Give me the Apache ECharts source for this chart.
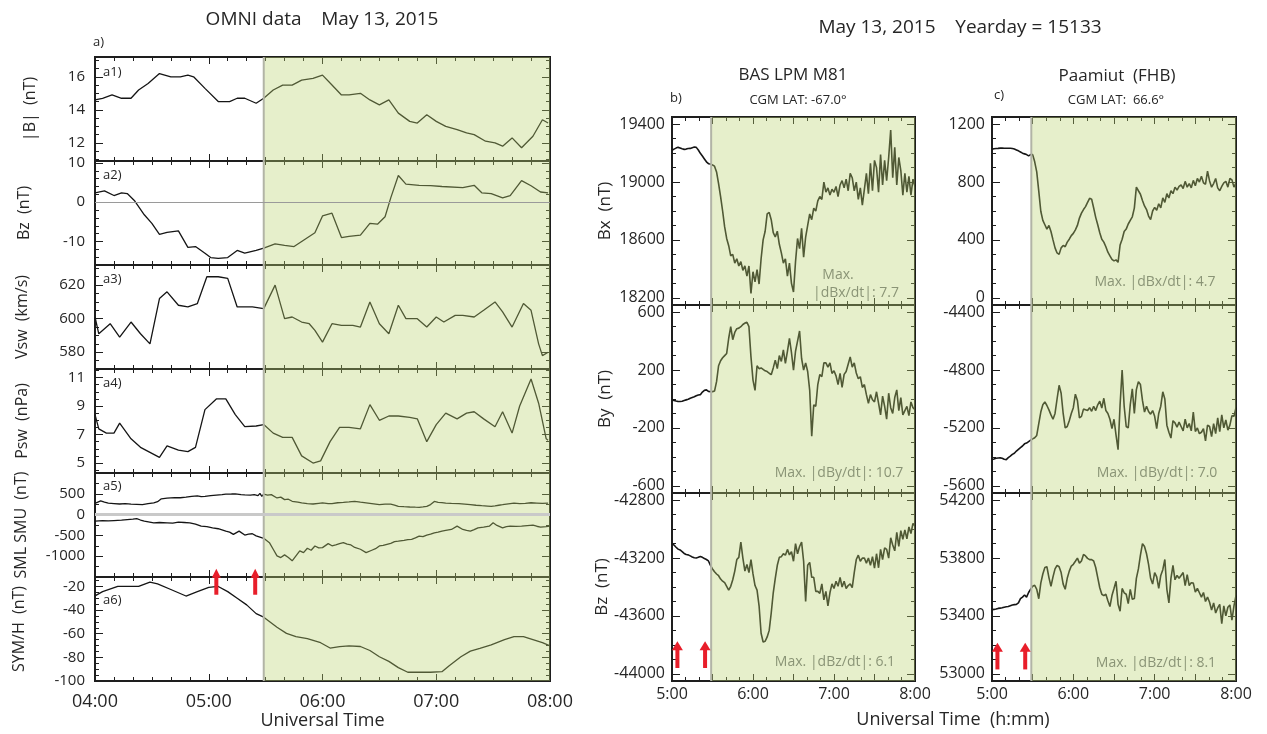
<!DOCTYPE html>
<html>
<head>
<meta charset="utf-8">
<title>OMNI data and ground magnetometers, May 13, 2015</title>
<script src="https://cdn.jsdelivr.net/npm/echarts@6/dist/echarts.min.js"></script>
<style>
  html, body { margin: 0; padding: 0; background: #fff; }
  #chart { width: 1267px; height: 734px; }
</style>
</head>
<body>
<div id="chart"></div>
<script>
// ---------------- OMNI solar wind / index data (time = minutes of day, UT) ----------------
const bMagTime = [240,244,249,254,259,263,268,274,280,285,289,292,298,305,311,315,319,325,329,334,339,344,349,355,360,365,370,374,380,385,390,395,400,406,410,415,420,425,431,436,440,446,451,455,460,465,471,476,479];
const bMag = [14.6,14.7,14.9,14.7,14.7,15.2,15.6,16.2,16.0,16.0,16.1,16.0,15.3,14.5,14.5,14.7,14.7,14.4,14.7,15.2,15.5,15.5,15.8,15.9,16.1,15.5,14.9,14.9,15.0,14.6,14.3,14.6,13.8,13.3,13.2,13.7,13.3,13.0,12.8,12.6,12.5,12.1,12.0,11.8,12.3,11.7,12.4,13.4,13.2];

const bzTime = [240,245,250,254,257,261,266,270,274,278,284,289,293,298,301,305,310,315,319,325,329,335,340,345,350,356,360,365,370,374,380,385,389,393,396,400,404,411,417,423,434,440,444,449,455,459,465,470,475,479];
const bz = [2.4,2.9,1.7,2.4,2.2,0.3,-3.2,-5.4,-8.2,-7.7,-7.3,-11.5,-11.3,-13.0,-14.1,-14.3,-14.1,-12.3,-13.0,-12.3,-11.7,-10.6,-11.0,-11.3,-9.7,-7.8,-3.5,-2.8,-9.0,-8.7,-8.4,-5.4,-5.6,-3.7,1.1,6.8,4.6,4.3,4.2,4.0,3.7,4.3,2.4,2.2,1.1,1.7,5.5,4.2,2.6,2.4];

const vswTime = [240,242,248,253,259,264,269,274,278,284,289,294,299,305,310,315,323,329,335,340,344,349,353,356,360,365,370,376,380,385,390,395,400,404,410,415,420,424,430,434,440,445,451,455,460,466,470,474,476,479];
const vsw = [601,591,597,589,598,591,585,612,616,608,607,609,625,625,624,607,607,606,620,600,601,598,597,593,586,597,596,596,595,610,597,591,608,600,600,595,601,598,602,602,601,605,610,604,595,609,605,585,578,580];

const pswTime = [240,242,246,250,253,259,264,269,274,278,284,289,293,298,304,309,314,319,325,329,334,339,344,349,355,359,364,369,374,380,385,390,395,400,406,410,415,420,425,431,436,440,445,451,455,460,464,470,474,478,479];
const psw = [8.4,7.4,7.1,7.1,7.8,6.7,6.1,5.75,5.4,6.2,5.9,5.8,6.1,8.75,9.5,9.5,8.4,7.55,7.6,7.7,7.1,6.8,6.8,5.5,5.0,5.15,6.5,7.5,7.5,7.4,9.1,8.0,8.3,8.3,8.2,8.1,6.5,7.7,8.5,8.1,8.5,8.6,8.1,7.55,8.6,7.1,9.0,10.9,9.2,6.7,6.6];

const smuTime = [240,243,245,247,250,253,256,259,262,265,268,271,273,275,278,282,285,288,291,294,296,298,301,304,307,309,312,314,317,319,322,324,326,327,328,329,331,333,336,338,340,342,344,347,349,352,355,358,360,363,365,368,371,374,377,380,384,387,390,393,396,398,400,403,406,409,411,413,415,417,419,421,423,425,428,432,435,438,441,444,447,449,451,453,455,458,461,464,467,470,473,476,479];
const smu = [270,330,300,275,265,255,262,250,245,240,262,280,310,380,395,410,405,420,440,450,430,437,455,470,480,490,495,500,480,475,470,478,455,510,440,490,470,480,400,420,360,370,320,300,280,265,255,270,280,265,262,285,294,305,318,300,278,260,238,250,254,230,200,190,183,178,175,185,198,240,317,295,290,278,270,262,250,238,225,214,205,198,210,225,238,260,278,265,270,285,278,270,278];

const smlTime = [240,244,247,250,254,257,260,262,264,266,271,274,278,281,284,287,290,293,296,299,302,305,309,311,313,316,319,321,323,325,327,329,332,334,336,338,340,342,344,346,348,350,352,354,356,358,360,363,365,367,369,371,373,375,377,380,383,386,388,390,392,394,396,398,400,403,405,407,409,411,413,415,417,419,421,423,425,428,431,434,436,438,440,442,445,448,450,452,455,457,459,462,465,468,471,473,475,478,480];
const sml = [-159,-143,-150,-143,-135,-119,-110,-95,-130,-159,-198,-190,-198,-205,-183,-190,-198,-230,-278,-290,-317,-340,-397,-420,-476,-397,-492,-470,-460,-510,-540,-571,-675,-833,-992,-1032,-968,-1032,-1111,-992,-873,-913,-810,-857,-754,-800,-794,-698,-750,-730,-700,-675,-710,-730,-790,-833,-913,-857,-820,-754,-740,-714,-690,-651,-640,-619,-600,-595,-560,-516,-530,-492,-470,-437,-420,-397,-380,-357,-278,-357,-380,-397,-360,-317,-300,-278,-198,-260,-317,-290,-278,-285,-278,-265,-254,-280,-302,-290,-278];

const symhTime = [240,244,252,263,269,273,280,288,294,300,305,310,315,320,325,329,336,341,346,352,359,364,369,374,380,385,390,395,400,405,411,417,423,427,433,438,443,449,456,461,466,471,476,480];
const symh = [-28,-24.4,-20,-20,-16.3,-17.8,-22.6,-28.1,-24.4,-20.7,-20,-24.4,-30,-35.6,-43,-46,-54.5,-59.7,-62.4,-64.2,-67.6,-72.1,-71,-70.3,-70.8,-74.2,-79.5,-83.4,-88.7,-92.6,-92.6,-92.6,-92.1,-86.8,-79.5,-74.7,-72.4,-69.5,-65,-62.4,-62.4,-65,-67.6,-70.3];

// ---------------- Ground magnetometers, sampled every 1.5 min from 05:00 UT ----------------
const magMinutes = Array.from({ length: 121 }, (_, i) => 300 + 1.5 * i);

// BAS LPM M81
const m81Bx = [19220,19228,19235,19240,19236,19230,19226,19228,19232,19233,
  19238,19242,19240,19222,19199,19180,19160,19140,19127,19125,
  19118,19110,19070,18990,18900,18800,18690,18610,18560,18490,
  18500,18440,18470,18420,18450,18390,18420,18350,18420,18230,
  18380,18310,18395,18295,18470,18600,18660,18780,18790,18740,
  18650,18620,18660,18570,18510,18440,18470,18350,18440,18300,
  18240,18450,18610,18540,18680,18480,18620,18700,18780,18740,
  18820,18800,18870,18900,18880,19000,18930,18960,18910,18950,
  18930,18970,18900,18980,19010,18960,19020,18940,19060,19030,
  18940,19000,18880,18960,18840,18950,19060,18920,19130,18940,
  19150,19100,18930,19190,18980,19150,19010,19170,19360,19030,
  19240,18980,19170,19080,18910,19060,18930,19040,18910,19020,
  18970];
const m81By = [-6,-10,-14,-17,-17,-15,-10,-6,-2,5,
  10,15,22,28,30,48,60,63,52,51,
  51,55,120,230,265,285,300,315,420,500,
  410,460,486,490,500,515,525,531,500,291,
  131,60,230,210,215,205,195,190,178,168,
  215,269,210,300,260,340,246,330,420,320,
  200,330,400,470,280,200,250,190,60,-257,
  -40,-50,100,170,154,250,250,220,250,177,
  195,160,100,177,80,170,190,240,291,220,
  250,180,140,154,80,100,30,-29,30,-5,
  -20,50,-29,-110,20,-50,-140,40,-60,-100,
  10,63,-80,10,-110,-80,-51,-115,-20,-60,
  -74];
const m81Bz = [-43100,-43110,-43125,-43138,-43144,-43155,-43168,-43175,-43178,-43185,
  -43192,-43198,-43200,-43195,-43189,-43195,-43203,-43210,-43220,-43250,
  -43275,-43295,-43310,-43322,-43345,-43360,-43370,-43395,-43422,-43395,
  -43350,-43290,-43210,-43195,-43089,-43200,-43290,-43244,-43300,-43210,
  -43310,-43390,-43422,-43530,-43720,-43780,-43775,-43745,-43700,-43580,
  -43440,-43340,-43250,-43195,-43190,-43170,-43180,-43140,-43178,-43156,
  -43222,-43100,-43170,-43120,-43090,-43222,-43500,-43250,-43230,-43333,
  -43333,-43430,-43430,-43444,-43378,-43489,-43430,-43530,-43440,-43378,
  -43410,-43360,-43395,-43333,-43400,-43360,-43410,-43390,-43378,-43405,
  -43300,-43210,-43180,-43222,-43200,-43200,-43235,-43200,-43250,-43190,
  -43270,-43170,-43267,-43140,-43210,-43130,-43140,-43200,-43060,-43110,
  -43150,-43022,-43120,-43010,-43070,-43005,-43067,-42985,-43030,-42960,
  -42978];

// Paamiut (FHB)
const fhbBx = [1028,1030,1032,1033,1035,1035,1034,1034,1034,1034,
  1032,1028,1022,1016,1008,1000,995,990,981,990,
  990,940,870,737,598,535,505,475,500,458,
  400,345,310,300,345,362,353,385,405,430,
  445,470,500,551,585,610,630,660,688,682,
  621,556,505,450,405,385,353,315,290,265,
  255,262,245,365,405,458,475,510,535,560,
  620,765,740,716,672,635,610,565,540,600,
  625,605,650,621,691,660,720,690,740,720,
  765,745,770,780,755,805,765,790,760,812,
  775,825,800,840,795,785,875,808,765,790,
  825,760,740,770,795,805,765,825,815,765,
  795];
const fhbBy = [-5419,-5415,-5410,-5408,-5407,-5410,-5417,-5419,-5405,-5395,
  -5383,-5375,-5360,-5348,-5336,-5325,-5310,-5305,-5295,-5285,
  -5276,-5268,-5252,-5170,-5090,-5040,-5020,-5045,-5075,-5110,
  -5140,-5100,-5000,-4905,-4960,-5100,-5200,-5190,-5150,-5100,
  -5060,-4967,-5010,-5130,-5120,-5070,-5075,-5080,-5060,-5085,
  -5050,-5080,-5040,-5015,-5062,-4995,-5080,-5100,-5140,-5205,
  -5140,-5250,-5350,-5038,-4800,-5050,-5190,-5200,-5038,-4930,
  -5100,-4935,-4880,-4900,-5010,-5090,-5050,-5086,-5105,-5080,
  -5120,-5205,-5100,-5050,-4950,-5000,-5181,-5230,-5270,-5150,
  -5165,-5195,-5160,-5190,-5220,-5140,-5200,-5170,-5220,-5090,
  -5225,-5200,-5240,-5230,-5205,-5290,-5180,-5190,-5260,-5170,
  -5240,-5130,-5225,-5110,-5200,-5145,-5215,-5181,-5115,-5120,
  -5060];
const fhbBz = [53443,53445,53448,53452,53454,53456,53460,53463,53465,53470,
  53475,53478,53480,53490,53519,53530,53545,53530,53562,53585,
  53605,53612,53584,53519,53627,53690,53735,53740,53665,53605,
  53670,53725,53750,53740,53700,53620,53584,53660,53710,53745,
  53757,53778,53800,53765,53780,53825,53815,53798,53789,53789,
  53780,53735,53665,53595,53550,53540,53550,53505,53465,53541,
  53590,53640,53480,53432,53590,53560,53550,53485,53584,53515,
  53520,53660,53725,53820,53900,53880,53830,53757,53660,53620,
  53700,53670,53590,53680,53720,53790,53584,53490,53660,53750,
  53650,53680,53660,53680,53700,53610,53685,53610,53630,53627,
  53565,53590,53560,53530,53562,53500,53530,53495,53440,53490,
  53420,53455,53480,53346,53470,53400,53460,53476,53370,53470,
  53541];

// ---------------- Events and tick labels ----------------
const onsetMinute = 329;            // start of the shaded interval (05:29 UT)
const arrowMinutes = [304, 324.5];  // marked events before the onset

const omniTimeTicks = [240, 300, 360, 420, 480];
const omniTimeLabels = ['04:00', '05:00', '06:00', '07:00', '08:00'];
const magTimeTicks = [300, 360, 420, 480];
const magTimeLabels = ['5:00', '6:00', '7:00', '8:00'];

const ticksBmag = [12, 14, 16];
const ticksBz = [-10, 0, 10];
const ticksVsw = [580, 600, 620];
const ticksPsw = [5, 7, 9, 11];
const ticksSmx = [-1000, -500, 0, 500];
const ticksSymh = [-100, -80, -60, -40, -20];
const ticksM81Bx = [18200, 18600, 19000, 19400];
const ticksM81By = [-600, -200, 200, 600];
const ticksM81Bz = [-44000, -43600, -43200, -42800];
const ticksFhbBx = [0, 400, 800, 1200];
const ticksFhbBy = [-5600, -5200, -4800, -4400];
const ticksFhbBz = [53000, 53400, 53800, 54200];

// ---------------- Styling ----------------
const FONT = '"Open Sans", "Noto Sans", "DejaVu Sans", sans-serif';
const INK = '#1e1e1e';
const TEXT = '#262626';
const SHADE = 'rgba(186,212,112,0.36)';
const ONSET_EDGE = '#b2b4a6';
const ARROW = '#e81e2a';
const MAX_TEXT = '#8a9476';

function tickList(min, max, step) {
  const out = [];
  for (let k = Math.ceil((min - 1e-9) / step); k * step <= max + 1e-9; k++) out.push(+(k * step).toFixed(6));
  return out;
}
function without(list, remove) { return list.filter(v => !remove.includes(v)); }

const grids = [], xAxes = [], yAxes = [], series = [];

function addPanel(p) {
  const gi = grids.length;
  grids.push({ left: p.left, top: p.top, width: p.width, height: p.height, show: true,
    borderWidth: 2, borderColor: INK, backgroundColor: 'rgba(0,0,0,0)', containLabel: false, outerBoundsMode: 'none' });
  const tickStyle = { color: INK, width: 1 };
  const base = extra => Object.assign({ type: 'value', gridIndex: gi, splitLine: { show: false },
    axisLine: { show: false, onZero: false }, axisLabel: { show: false }, silent: true }, extra);

  const xi = xAxes.length;
  const xExt = { min: p.xMin, max: p.xMax };
  const xMinor = without(tickList(p.xMin, p.xMax, 10), p.xMajor);
  xAxes.push(base(Object.assign({ position: 'bottom',
    axisTick: { show: true, inside: true, length: 7, customValues: p.xMajor, lineStyle: tickStyle } }, xExt,
    p.xLabels ? { axisLabel: { show: true, customValues: p.xLabels.at, formatter: v => p.xLabels.text[p.xLabels.at.indexOf(v)],
      margin: p.xLabelMargin, fontSize: p.xLabelSize, fontFamily: FONT, color: TEXT } } : {},
    p.xName ? { name: p.xName, nameLocation: 'middle', nameGap: p.xNameGap,
      nameTextStyle: { fontSize: 18, fontFamily: FONT, color: TEXT } } : {})));
  xAxes.push(base(Object.assign({ position: 'bottom', axisTick: { show: true, inside: true, length: 4, customValues: xMinor, lineStyle: tickStyle } }, xExt)));
  xAxes.push(base(Object.assign({ position: 'top', axisTick: { show: true, inside: true, length: 7, customValues: p.xMajor, lineStyle: tickStyle } }, xExt)));
  xAxes.push(base(Object.assign({ position: 'top', axisTick: { show: true, inside: true, length: 4, customValues: xMinor, lineStyle: tickStyle } }, xExt)));

  const yi = yAxes.length;
  const yExt = { min: p.yMin, max: p.yMax };
  const yMinor = without(tickList(p.yMin, p.yMax, p.yMinorStep), p.yLabels);
  yAxes.push(base(Object.assign({ position: 'left',
    axisTick: { show: true, inside: true, length: 8, customValues: p.yLabels, lineStyle: tickStyle },
    axisLabel: { show: true, customValues: p.yLabels, formatter: v => String(v), margin: p.yLabelMargin,
      fontSize: p.yLabelSize, fontFamily: FONT, color: TEXT } }, yExt,
    p.yName ? { name: p.yName, nameLocation: 'middle', nameGap: p.yNameGap, nameRotate: 90,
      nameTextStyle: { fontSize: p.yNameSize, fontFamily: FONT, color: TEXT } } : {})));
  yAxes.push(base(Object.assign({ position: 'left', axisTick: { show: true, inside: true, length: 4, customValues: yMinor, lineStyle: tickStyle } }, yExt)));
  yAxes.push(base(Object.assign({ position: 'right', axisTick: { show: true, inside: true, length: 8, customValues: p.yLabels, lineStyle: tickStyle } }, yExt)));
  yAxes.push(base(Object.assign({ position: 'right', axisTick: { show: true, inside: true, length: 4, customValues: yMinor, lineStyle: tickStyle } }, yExt)));

  p.lines.forEach(([ts, vs], k) => {
    const s = { type: 'line', xAxisIndex: xi, yAxisIndex: yi, data: ts.map((t, i) => [t, vs[i]]),
      symbol: 'none', showSymbol: false, lineStyle: { color: '#151515', width: p.lineWidth }, z: 2, silent: true };
    if (k === 0 && p.zero) {
      s.markLine = { silent: true, symbol: 'none', label: { show: false }, animation: false,
        lineStyle: { color: p.zero.color, width: p.zero.width, type: 'solid' }, data: [{ yAxis: 0 }] };
    }
    series.push(s);
  });

  // shaded interval from the onset to the end of the plotted window
  series.push({ type: 'custom', xAxisIndex: xi, yAxisIndex: yi, z: 4, silent: true,
    data: [[onsetMinute, p.yMin, p.xMax, p.yMax]], encode: { x: [0, 2], y: [1, 3] },
    renderItem: (params, api) => {
      const a = api.coord([api.value(0), api.value(1)]);
      const b = api.coord([api.value(2), api.value(3)]);
      return { type: 'group', children: [
        { type: 'rect', shape: { x: a[0], y: b[1], width: b[0] - a[0], height: a[1] - b[1] }, style: { fill: SHADE } },
        { type: 'line', shape: { x1: a[0], y1: b[1], x2: a[0], y2: a[1] }, style: { stroke: ONSET_EDGE, lineWidth: 2 } }
      ] };
    } });

  if (p.arrows) {
    const ar = p.arrows;
    series.push({ type: 'custom', xAxisIndex: xi, yAxisIndex: yi, z: 6, silent: true, clip: false,
      data: arrowMinutes.map(t => [t, ar.from, ar.to]), encode: { x: 0, y: [1, 2] },
      renderItem: (params, api) => {
        const tail = api.coord([api.value(0), api.value(1)]);
        const tip = api.coord([api.value(0), api.value(2)]);
        return { type: 'group', children: [
          { type: 'rect', shape: { x: tail[0] - ar.shaft / 2, y: tip[1] + ar.headL - 1, width: ar.shaft, height: tail[1] - tip[1] - ar.headL + 1 }, style: { fill: ARROW } },
          { type: 'polygon', shape: { points: [[tip[0], tip[1]], [tip[0] - ar.headW / 2, tip[1] + ar.headL], [tip[0] + ar.headW / 2, tip[1] + ar.headL]] }, style: { fill: ARROW } }
        ] };
      } });
  }
  return p;
}

// ---------------- Left column: OMNI ----------------
const omniCol = { left: 95, width: 455, height: 104 };
const omniTops = [57, 161, 265, 369, 473, 577];
const omniSpecs = [
  { tag: 'a1)', tagDy: 15, yName: '|B|  (nT)', yNameGap: 57, yMin: 10.9, yMax: 17.2, yLabels: ticksBmag, yMinorStep: 0.5, lines: [[bMagTime, bMag]] },
  { tag: 'a2)', tagDy: 14, yName: 'Bz  (nT)', yNameGap: 63, yMin: -16, yMax: 10.5, yLabels: ticksBz, yMinorStep: 2, lines: [[bzTime, bz]], zero: { color: '#9a9a9a', width: 1.2 } },
  { tag: 'a3)', tagDy: 14, yName: 'Vsw  (km/s)', yNameGap: 65, yMin: 570, yMax: 632, yLabels: ticksVsw, yMinorStep: 5, lines: [[vswTime, vsw]] },
  { tag: 'a4)', tagDy: 14, yName: 'Psw  (nPa)', yNameGap: 65, yMin: 4.3, yMax: 11.6, yLabels: ticksPsw, yMinorStep: 0.5, lines: [[pswTime, psw]] },
  { tag: 'a5)', tagDy: 13, yName: 'SML SMU  (nT)', yNameGap: 66, yMin: -1500, yMax: 1000, yLabels: ticksSmx, yMinorStep: 250, lines: [[smuTime, smu], [smlTime, sml]], zero: { color: '#c9c9c9', width: 3 } },
  { tag: 'a6)', tagDy: 23, yName: 'SYM/H  (nT)', yNameGap: 68, yMin: -100, yMax: -12, yLabels: ticksSymh, yMinorStep: 5, lines: [[symhTime, symh]],
    arrows: { from: -27, to: -5, shaft: 4, headW: 9, headL: 9 } }
];
omniSpecs.forEach((s, i) => addPanel(Object.assign({
  left: omniCol.left, width: omniCol.width, height: omniCol.height, top: omniTops[i],
  xMin: 240, xMax: 480, xMajor: omniTimeTicks,
  xLabels: i === omniSpecs.length - 1 ? { at: omniTimeTicks, text: omniTimeLabels } : null,
  xLabelSize: 18, xLabelMargin: 12,
  xName: i === omniSpecs.length - 1 ? 'Universal Time' : null, xNameGap: 31,
  yLabelSize: 15, yLabelMargin: 10, yNameSize: 16, lineWidth: 1.3
}, s)));

// ---------------- Right columns: magnetometer stations ----------------
const magTops = [117, 305, 493];
const magHeight = 188;
const stationCols = [
  { left: 672, width: 243, names: ['Bx  (nT)', 'By  (nT)', 'Bz  (nT)'],
    comps: [
      { data: m81Bx, yMin: 18150, yMax: 19450, yLabels: ticksM81Bx },
      { data: m81By, yMin: -650, yMax: 650, yLabels: ticksM81By },
      { data: m81Bz, yMin: -44050, yMax: -42750, yLabels: ticksM81Bz, arrows: { from: -43960, to: -43775, shaft: 4, headW: 11, headL: 9 } }
    ] },
  { left: 992, width: 244, names: [null, null, null],
    comps: [
      { data: fhbBx, yMin: -50, yMax: 1250, yLabels: ticksFhbBx },
      { data: fhbBy, yMin: -5650, yMax: -4350, yLabels: ticksFhbBy },
      { data: fhbBz, yMin: 52950, yMax: 54250, yLabels: ticksFhbBz, arrows: { from: 53030, to: 53215, shaft: 4, headW: 11, headL: 9 } }
    ] }
];
stationCols.forEach(col => col.comps.forEach((c, i) => addPanel({
  left: col.left, width: col.width, top: magTops[i], height: magHeight,
  xMin: 300, xMax: 480, xMajor: tickList(300, 480, 30),
  xLabels: i === 2 ? { at: magTimeTicks, text: magTimeLabels } : null,
  xLabelSize: 16, xLabelMargin: 5,
  yMin: c.yMin, yMax: c.yMax, yLabels: c.yLabels, yMinorStep: 100,
  yLabelSize: 16, yLabelMargin: 7, yNameSize: 17,
  yName: col.names[i], yNameGap: 58,
  lines: [[magMinutes, c.data]], lineWidth: 1.6, arrows: c.arrows
})));

// ---------------- Text annotations ----------------
function label(text, x, y, size, opts) {
  opts = opts || {};
  const align = opts.align || 'center';
  return { type: 'text', x: x, y: y, z: 100, silent: true,
    style: { text: text, fontSize: size, fontFamily: FONT, fill: opts.color || TEXT,
      align: align, verticalAlign: 'middle', textAlign: align, textVerticalAlign: 'middle' } };
}
const annotations = [
  label('OMNI data    May 13, 2015', 322, 20, 19),
  label('May 13, 2015    Yearday = 15133', 960, 28, 19),
  label('BAS LPM M81', 793, 75, 17),
  label('Paamiut  (FHB)', 1117, 76, 17),
  label('CGM LAT: -67.0\u00b0', 798, 100, 13),
  label('CGM LAT:  66.6\u00b0', 1116, 100, 13),
  label('a)', 93, 42, 13, { align: 'left' }),
  label('b)', 670, 98, 13, { align: 'left' }),
  label('c)', 994, 95, 13, { align: 'left' }),
  label('Max.', 838, 275, 14, { color: MAX_TEXT }),
  label('|dBx/dt|: 7.7', 856, 293, 14, { color: MAX_TEXT }),
  label('Max. |dBy/dt|: 10.7', 839, 473, 14, { color: MAX_TEXT }),
  label('Max. |dBz/dt|: 6.1', 835, 662, 14, { color: MAX_TEXT }),
  label('Max. |dBx/dt|: 4.7', 1155, 282, 14, { color: MAX_TEXT }),
  label('Max. |dBy/dt|: 7.0', 1157, 473, 14, { color: MAX_TEXT }),
  label('Max. |dBz/dt|: 8.1', 1156, 663, 14, { color: MAX_TEXT }),
  label('Universal Time  (h:mm)', 953, 720, 18)
];
omniSpecs.forEach((s, i) => annotations.push(label(s.tag, 103, omniTops[i] + s.tagDy, 13, { align: 'left' })));

const chart = echarts.init(document.getElementById('chart'), null, { renderer: 'canvas', width: 1267, height: 734 });
chart.setOption({
  backgroundColor: '#ffffff',
  animation: false,
  textStyle: { fontFamily: FONT },
  grid: grids,
  xAxis: xAxes,
  yAxis: yAxes,
  series: series,
  graphic: { elements: annotations }
});
</script>
</body>
</html>
